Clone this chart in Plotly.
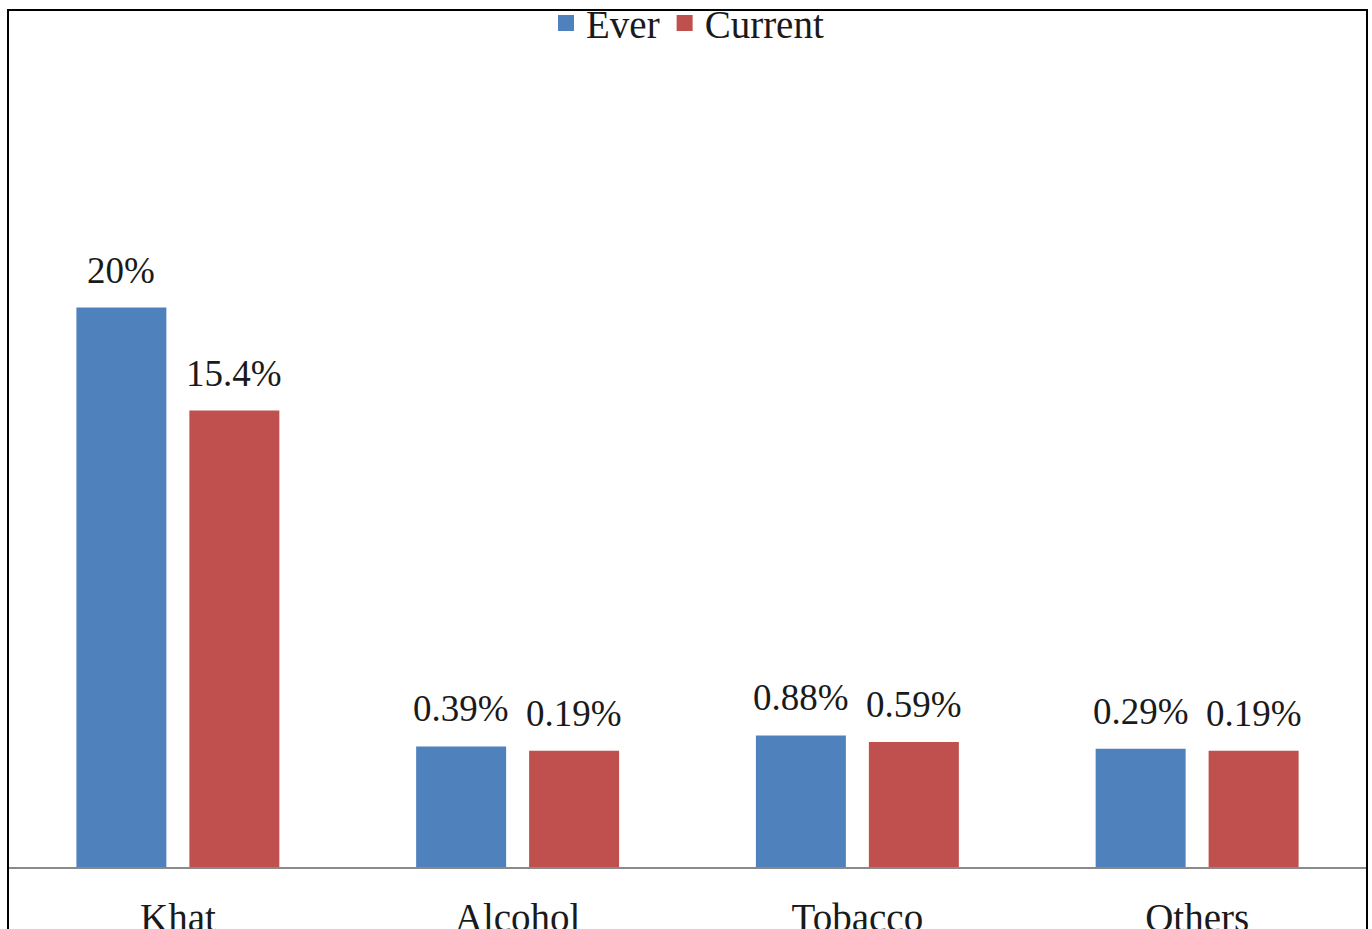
import plotly.graph_objects as go

categories = ["Khat", "Alcohol", "Tobacco", "Others"]
ever = [20, 0.39, 0.88, 0.29]
current = [15.4, 0.19, 0.59, 0.19]
ever_labels = ["20%", "0.39%", "0.88%", "0.29%"]
current_labels = ["15.4%", "0.19%", "0.59%", "0.19%"]
AXIS_BASE = -5  # value axis starts below zero in the original
AXIS_TOP = 33.3

BLUE = "#4F81BD"
RED = "#C0504D"
FONT = "'Liberation Serif', 'Times New Roman', 'DejaVu Serif', serif"
TXT = "#1a1a1a"

fig = go.Figure()
fig.add_trace(go.Bar(name="Ever", x=categories, y=[v - AXIS_BASE for v in ever],
                     base=AXIS_BASE, marker=dict(color=BLUE, line=dict(width=0)),
                     showlegend=False,
                     customdata=ever, hovertemplate="%{x}: %{customdata}%<extra>Ever</extra>"))
fig.add_trace(go.Bar(name="Current", x=categories, y=[v - AXIS_BASE for v in current],
                     base=AXIS_BASE, marker=dict(color=RED, line=dict(width=0)),
                     showlegend=False,
                     customdata=current, hovertemplate="%{x}: %{customdata}%<extra>Current</extra>"))
# legend entries with larger square swatches
for name, col in (("Ever", BLUE), ("Current", RED)):
    fig.add_trace(go.Scatter(name=name, x=[None], y=[None], mode="markers",
                             marker=dict(symbol="square", size=16, color=col,
                                         line=dict(width=0)),
                             hoverinfo="skip"))

annotations = []
for vals, labs, shift in ((ever, ever_labels, -56.5), (current, current_labels, 56.5)):
    for cat, v, lab in zip(categories, vals, labs):
        annotations.append(dict(x=cat, y=v, text=lab, showarrow=False, xref="x", yref="y",
                                yanchor="bottom", xanchor="center", xshift=shift, yshift=15,
                                font=dict(family=FONT, size=37, color=TXT)))

fig.update_layout(
    width=1372, height=929,
    margin=dict(l=8, r=5, t=10, b=62, pad=0, autoexpand=False),
    paper_bgcolor="white", plot_bgcolor="white",
    barmode="group", bargap=0.335, bargroupgap=0.2035,
    font=dict(family=FONT, size=37, color=TXT),
    showlegend=True,
    legend=dict(orientation="h", x=0.5, xanchor="center", y=1.022, yanchor="top",
                font=dict(family=FONT, size=39, color=TXT), itemwidth=30,
                bgcolor="rgba(0,0,0,0)", itemclick=False, itemdoubleclick=False),
    xaxis=dict(showline=True, linecolor="#8a8a8a", linewidth=2, ticks="",
               showgrid=False, zeroline=False, ticklabelstandoff=15, automargin=False,
               tickfont=dict(family=FONT, size=39, color=TXT)),
    yaxis=dict(visible=False, range=[AXIS_BASE, AXIS_TOP], showgrid=False, zeroline=False,
               automargin=False),
    annotations=annotations,
    shapes=[dict(type="rect", xref="paper", yref="paper", x0=0, x1=1, y0=-0.3, y1=1,
                 line=dict(color="black", width=2), layer="above")],
)

fig.write_html("out.html")
